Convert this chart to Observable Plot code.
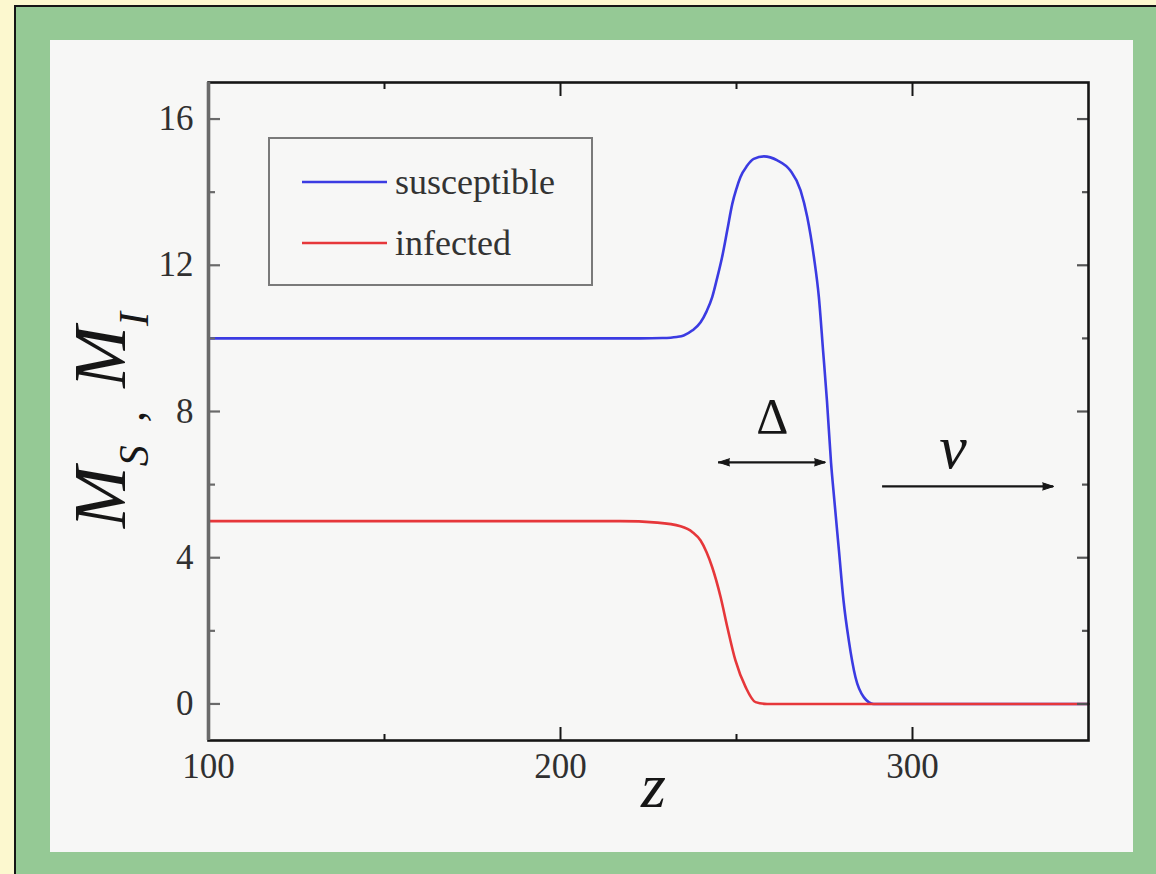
<!DOCTYPE html>
<html>
<head>
<meta charset="utf-8">
<script src="https://cdn.jsdelivr.net/npm/d3@7"></script>
<script src="https://cdn.jsdelivr.net/npm/@observablehq/plot@0.6"></script>
<style>
  html, body { margin: 0; padding: 0; width: 1156px; height: 874px; overflow: hidden; background: #fcf8cf; }
  #frame { position: absolute; left: 14px; top: 5px; width: 1220px; height: 940px;
           border-top: 2px solid #151515; border-left: 2px solid #151515; background: #95c995; }
  #panel { position: absolute; left: 34px; top: 33px; width: 1083px; height: 812px; background: #f7f7f6; }
  #panel svg { display: block; }
</style>
</head>
<body>
<div id="frame"><div id="panel"></div></div>
<script>
// Travelling front: susceptible and infected densities against position z
const suscZ = [100, 200, 222.7, 229, 233, 235.0, 237.5, 239.8, 241.5, 243.1, 244.5, 245.9, 247.4, 248.8, 250.0, 251.1, 253.0, 254.9, 257.8, 261.6, 265.3, 268.2, 270.1, 272.0, 273.4, 274.6, 275.7, 276.85, 277.8, 279.1, 280.4, 281.9, 283.8, 286.2, 289.0, 300, 350];
const suscM = [10, 10, 10, 10.01, 10.04, 10.08, 10.22, 10.44, 10.74, 11.13, 11.65, 12.22, 12.97, 13.68, 14.1, 14.41, 14.72, 14.91, 14.98, 14.87, 14.59, 14.05, 13.32, 12.22, 11.13, 9.66, 8.29, 6.61, 5.57, 4.2, 2.83, 1.74, 0.73, 0.18, 0, 0, 0];

const infZ = [100, 200, 217.0, 227.5, 234.1, 237.5, 239.8, 241.5, 243.1, 245.5, 247.4, 249.7, 252.6, 255.4, 258.7, 300, 350];
const infM = [5, 5, 5, 4.96, 4.86, 4.7, 4.47, 4.15, 3.74, 2.92, 2.1, 1.19, 0.46, 0.05, 0, 0, 0];

const seriesNames = ["susceptible", "infected"];
const seriesColors = ["#3b3be2", "#e6373a"];

const xDomain = [100, 350];
const yDomain = [-1, 17];
const xMajor = [100, 200, 300];
const xMinor = [150, 250];
const yMajor = [0, 4, 8, 12, 16];
const yMinor = [2, 6, 10, 14];

// Front width (Δ) and propagation direction (v) annotations
const deltaSpan = [244.9, 275.3], deltaLevel = 6.61, deltaLabel = {x: 260.2, y: 7.84, t: "Δ"};
const speedSpan = [291.5, 340.1], speedLevel = 5.95, speedLabel = {x: 311.5, y: 7.0, t: "v"};
const arrowTips = [
  {x: deltaSpan[0], y: deltaLevel, dir: -90},
  {x: deltaSpan[1], y: deltaLevel, dir: 90},
  {x: speedSpan[1], y: speedLevel, dir: 90}
];

const susceptible = suscZ.map((z, i) => ({z, m: suscM[i]}));
const infected = infZ.map((z, i) => ({z, m: infM[i]}));

const serif = "Liberation Serif, Times New Roman, serif";
const ink = "#161616";
const labelInk = "#303030";

const tickOnly = () => "";

const plot = Plot.plot({
  width: 1083,
  height: 812,
  marginLeft: 158,
  marginRight: 45,
  marginTop: 42,
  marginBottom: 112,
  x: {domain: xDomain, label: null},
  y: {domain: yDomain, label: null},
  style: {background: "transparent", fontFamily: serif, overflow: "visible"},
  marks: [
    Plot.line(susceptible, {x: "z", y: "m", stroke: seriesColors[0], strokeWidth: 2.6, curve: "monotone-x"}),
    Plot.line(infected, {x: "z", y: "m", stroke: seriesColors[1], strokeWidth: 2.6, curve: "monotone-x"}),

    // inward ticks on all four sides
    Plot.axisX({ticks: xMajor, anchor: "bottom", tickSize: -13, tickFormat: tickOnly, stroke: ink, strokeWidth: 2, label: null}),
    Plot.axisX({ticks: xMinor, anchor: "bottom", tickSize: -6, tickFormat: tickOnly, stroke: ink, strokeWidth: 2, label: null}),
    Plot.axisX({ticks: xMajor, anchor: "top", tickSize: -13, tickFormat: tickOnly, stroke: ink, strokeWidth: 2, label: null}),
    Plot.axisX({ticks: xMinor, anchor: "top", tickSize: -6, tickFormat: tickOnly, stroke: ink, strokeWidth: 2, label: null}),
    Plot.axisY({ticks: yMajor, anchor: "left", tickSize: -12, tickFormat: tickOnly, stroke: "#6a6a6a", strokeWidth: 2.2, label: null}),
    Plot.axisY({ticks: yMinor, anchor: "left", tickSize: -7, tickFormat: tickOnly, stroke: "#6a6a6a", strokeWidth: 2.2, label: null}),
    Plot.axisY({ticks: yMajor, anchor: "right", tickSize: -12, tickFormat: tickOnly, stroke: "#555", strokeWidth: 2.2, label: null}),
    Plot.axisY({ticks: yMinor, anchor: "right", tickSize: -7, tickFormat: tickOnly, stroke: "#555", strokeWidth: 2.2, label: null}),

    // tick labels
    Plot.axisX({ticks: xMajor, anchor: "bottom", tickSize: 0, tickPadding: 13, fontSize: 35, fill: labelInk, label: null}),
    Plot.axisY({ticks: yMajor, anchor: "left", tickSize: 0, tickPadding: 15, fontSize: 35, fill: labelInk, label: null}),

    Plot.frame({stroke: ink, strokeWidth: 2.6}),
    Plot.ruleX([xDomain[0]], {stroke: "#6a6a6a", strokeWidth: 3.6}),

    // Δ double arrow, v arrow, with filled heads
    Plot.ruleY([deltaLevel], {x1: deltaSpan[0], x2: deltaSpan[1], stroke: ink, strokeWidth: 2.2}),
    Plot.ruleY([speedLevel], {x1: speedSpan[0], x2: speedSpan[1], stroke: ink, strokeWidth: 2.2}),
    Plot.vector(arrowTips, {x: "x", y: "y", rotate: "dir", length: 11, r: 3.6, shape: "spike", anchor: "end",
      fill: ink, stroke: ink, strokeWidth: 1}),
    Plot.text([deltaLabel], {x: "x", y: "y", text: "t", fontSize: 50, fill: ink, fontFamily: serif}),
    Plot.text([speedLabel], {x: "x", y: "y", text: "t", fontSize: 62, fontStyle: "italic", fill: ink, fontFamily: serif}),

    // x-axis title
    Plot.text(["z"], {frameAnchor: "bottom", dy: 66, dx: 5, text: (d) => d, fontSize: 64, fontStyle: "italic", fill: ink, fontFamily: serif})
  ]
});

document.getElementById("panel").appendChild(plot);

const svg = d3.select(plot);

// y-axis title with subscripts
const yTitle = svg.append("text")
  .attr("transform", "translate(75,380) rotate(-90)")
  .attr("text-anchor", "middle")
  .attr("font-family", serif)
  .attr("font-style", "italic")
  .attr("font-size", 74)
  .attr("fill", ink);
yTitle.append("tspan").text("M");
yTitle.append("tspan").attr("font-size", 42).attr("dy", 23).text("S");
yTitle.append("tspan").attr("font-size", 46).attr("dy", -4).text("\u2002,\u2002");
yTitle.append("tspan").attr("font-size", 74).attr("dy", -19).text("M");
yTitle.append("tspan").attr("font-size", 42).attr("dy", 23).text("I");

// legend box
const legend = svg.append("g").attr("transform", "translate(219,98)");
legend.append("rect")
  .attr("width", 323).attr("height", 147)
  .attr("fill", "none").attr("stroke", "#7a7a7a").attr("stroke-width", 2);
const rows = legend.selectAll("g.row").data(seriesNames).join("g")
  .attr("class", "row")
  .attr("transform", (d, i) => `translate(0,${44 + i * 61})`);
rows.append("line")
  .attr("x1", 33).attr("x2", 118)
  .attr("stroke", (d, i) => seriesColors[i]).attr("stroke-width", 2.6);
rows.append("text")
  .attr("x", 126).attr("dy", "0.32em")
  .attr("text-anchor", "start")
  .attr("font-family", serif).attr("font-size", 36).attr("fill", "#333")
  .text((d) => d);
</script>
</body>
</html>
